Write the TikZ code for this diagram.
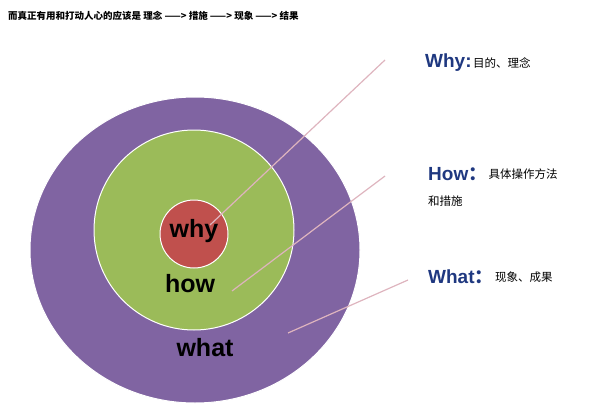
\documentclass[tikz,border=0pt]{standalone}
\usepackage{fontspec}
\setmainfont{Liberation Sans}
\newfontfamily\cjk{Noto Sans CJK SC}
\usetikzlibrary{positioning}
\definecolor{ringpurple}{RGB}{128, 100, 162}
\definecolor{ringgreen}{RGB}{155, 187, 89}
\definecolor{ringred}{RGB}{192, 80, 77}
\definecolor{leadpink}{RGB}{222, 180, 190}
\definecolor{headblue}{RGB}{31, 56, 128}

\begin{document}
\begin{tikzpicture}[x=1pt, y=-1pt]
    \useasboundingbox (0,0) rectangle (600,404);
    \tikzset{
        ring/.style={draw=white, line width=1pt},
        ringtext/.style={font=\bfseries\fontsize{25}{28}\selectfont, text=black},
        leader/.style={draw=leadpink, line width=1.2pt},
        headtext/.style={anchor=west, inner sep=0pt, font=\bfseries\fontsize{19}{22}\selectfont, text=headblue},
        bodytext/.style={anchor=west, inner sep=0pt, font=\cjk\fontsize{11.5}{14}\selectfont}
    }
    \node[anchor=west, inner sep=0pt, font=\cjk\bfseries\fontsize{9.5}{12}\selectfont] (title) at (8,16) {而真正有用和打动人心的应该是 理念 ——> 措施 ——> 现象 ——> 结果};

    \fill[ringpurple, ring] (195,250) ellipse (165 and 153);
    \fill[ringgreen, ring] (194,230) circle (100);
    \fill[ringred, ring] (194,234) circle (34);

    \node[ringtext] (why) at (194,231) {why};
    \node[ringtext] (how) at (190,284) {how};
    \node[ringtext] (what) at (205,348) {what};

    \coordinate (whyend) at (210,225);
    \coordinate (howend) at (232,291);
    \coordinate (whatend) at (288,333);
    \coordinate (whytip) at (385,60);
    \coordinate (howtip) at (385,176);
    \coordinate (whattip) at (408,280);

    \draw[leader] (whyend) -- (whytip);
    \draw[leader] (howend) -- (howtip);
    \draw[leader] (whatend) -- (whattip);

    \node[headtext] (whyhead) at (425,63) {Why:};
    \node[bodytext, right=1pt of whyhead] (whybody) {目的、理念};
    \node[headtext] (howhead) at (428,174) {How{\cjk ：}};
    \node[bodytext, right=1pt of howhead] (howbody) {具体操作方法};
    \node[bodytext] (howmore) at (428,201) {和措施};
    \node[headtext] (whathead) at (428,277) {What{\cjk ：}};
    \node[bodytext, right=1pt of whathead] (whatbody) {现象、成果};
\end{tikzpicture}
\end{document}
